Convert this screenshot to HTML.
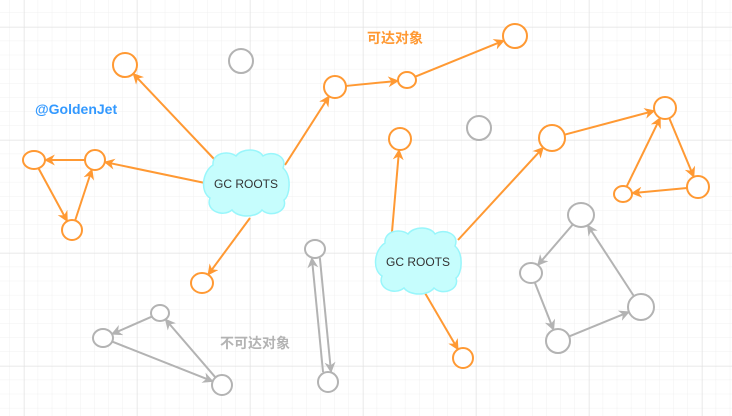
<!DOCTYPE html>
<html><head><meta charset="utf-8"><style>
html,body{margin:0;padding:0;background:#fff;}
svg{display:block;}
</style></head><body>
<svg id="s" width="732" height="416" xmlns="http://www.w3.org/2000/svg">
<defs>
<pattern id="minor" x="24" y="27" width="14.125" height="14.125" patternUnits="userSpaceOnUse"><path d="M14.125 0V14.125H0" fill="none" stroke="#f0f0f0" stroke-width="1"/></pattern>
<pattern id="major" x="24" y="27" width="113" height="113" patternUnits="userSpaceOnUse"><path d="M0 0V113M0 0H113" fill="none" stroke="#e0e0e0" stroke-width="1"/></pattern>
<marker id="ao" viewBox="0 0 10 10" refX="9" refY="5" markerWidth="11" markerHeight="11" markerUnits="userSpaceOnUse" orient="auto"><path d="M0 0L10 5L0 10L3 5Z" fill="#ff9933"/></marker>
<marker id="ag" viewBox="0 0 10 10" refX="9" refY="5" markerWidth="11" markerHeight="11" markerUnits="userSpaceOnUse" orient="auto"><path d="M0 0L10 5L0 10L3 5Z" fill="#b3b3b3"/></marker>
</defs>
<rect width="732" height="416" fill="url(#minor)"/>
<rect width="732" height="416" fill="url(#major)"/>
<g id="edges"></g>
<g id="nodes"></g>
<g fill="#c6fdfd" stroke="#99f6fb" stroke-width="1.5">
<path d="M213 165 C212 153 228 150 236 156 C242 148 258 148 263 156 C272 150 288 156 283 168 C292 176 290 196 284 200 C288 212 270 218 262 210 C256 218 238 218 232 210 C222 218 205 210 210 198 C200 192 202 172 213 165Z"/>
<path d="M385 243 C384 231 400 228 408 234 C414 226 430 226 435 234 C444 228 460 234 455 246 C464 254 462 274 456 278 C460 290 442 296 434 288 C428 296 410 296 404 288 C394 296 377 288 382 276 C372 270 374 250 385 243Z"/>
</g>
<g font-family="Liberation Sans, sans-serif" font-size="12" fill="#333" text-anchor="middle">
<text x="246" y="188">GC ROOTS</text>
<text x="418" y="266">GC ROOTS</text>
</g>
<g font-family="Liberation Sans, 'Noto Sans CJK SC', sans-serif" font-size="14" font-weight="bold">
<text x="395" y="43" fill="#ff9933" text-anchor="middle">可达对象</text>
<text x="35" y="114" fill="#3399ff">@GoldenJet</text>
<text x="255" y="348" fill="#b3b3b3" text-anchor="middle">不可达对象</text>
</g>
</svg>
<script>
var N={A:[125,65,12,12,'o'],B:[335,87,11,11,'o'],C:[407,80,9,8,'o'],D:[515,36,12,12,'o'],E:[34,160,11,9,'o'],F:[95,160,10,10,'o'],G:[72,230,10,10,'o'],H:[202,283,11,10,'o'],I:[400,139,11,11,'o'],J:[552,138,13,13,'o'],K:[665,108,11,11,'o'],L:[698,187,11,11,'o'],M:[623,194,9,8,'o'],Nn:[463,358,10,10,'o'],
g1:[241,61,12,12,'g'],g2:[479,128,12,12,'g'],g3:[581,215,13,12,'g'],g4:[531,273,11,10,'g'],g5:[558,341,12,12,'g'],g6:[641,307,13,13,'g'],g7:[103,338,10,9,'g'],g8:[160,313,9,8,'g'],g9:[222,385,10,10,'g'],g10:[315,249,10,9,'g'],g11:[328,382,10,10,'g']};
var S={A:[215,160],F:[205,183],B:[285,165],H:[250,218],I:[392,232],J:[458,240],Nn:[425,293]};
var E=[['c','A',0],['c','F',0],['F','E',0],['E','G',0],['G','F',0],['c','B',0],['B','C',0],['C','D',0],['c','H',0],['c','I',0],['c','J',0],['c','Nn',0],['J','K',0],['K','L',0],['L','M',0],['M','K',0],
['g3','g4',0],['g4','g5',0],['g5','g6',0],['g6','g3',0],['g8','g7',0],['g7','g9',0],['g9','g8',0],['g10','g11',4],['g11','g10',-4]];
var ns='http://www.w3.org/2000/svg';
function rad(n,ux,uy){return 1/Math.sqrt((ux*ux)/(n[2]*n[2])+(uy*uy)/(n[3]*n[3]));}
var eg=document.getElementById('edges'),ng=document.getElementById('nodes');
E.forEach(function(e){var b=N[e[1]].slice(),a,p;
if(e[0]=='c'){a=S[e[1]];var dx=b[0]-a[0],dy=b[1]-a[1],L=Math.hypot(dx,dy),ux=dx/L,uy=dy/L,rb=rad(b,ux,uy);p=[a[0],a[1],b[0]-ux*rb,b[1]-uy*rb];a=[0,0,0,0,'o'];}
else{a=N[e[0]].slice();if(e[2]){a[0]+=e[2];b[0]+=e[2];}var dx=b[0]-a[0],dy=b[1]-a[1],L=Math.hypot(dx,dy),ux=dx/L,uy=dy/L,ra=rad(a,ux,uy),rb=rad(b,ux,uy);p=[a[0]+ux*ra,a[1]+uy*ra,b[0]-ux*rb,b[1]-uy*rb];}
var col=(b[4]=='g')?'#b3b3b3':'#ff9933';var l=document.createElementNS(ns,'line');
l.setAttribute('x1',p[0]);l.setAttribute('y1',p[1]);l.setAttribute('x2',p[2]);l.setAttribute('y2',p[3]);
l.setAttribute('stroke',col);l.setAttribute('stroke-width','2');l.setAttribute('marker-end',col=='#b3b3b3'?'url(#ag)':'url(#ao)');eg.appendChild(l);});
for(var k in N){var n=N[k];var c=document.createElementNS(ns,'ellipse');
c.setAttribute('cx',n[0]);c.setAttribute('cy',n[1]);c.setAttribute('rx',n[2]);c.setAttribute('ry',n[3]);
c.setAttribute('fill','#fff');c.setAttribute('stroke',n[4]=='g'?'#b3b3b3':'#ff9933');c.setAttribute('stroke-width','2');ng.appendChild(c);}
</script>
</body></html>
